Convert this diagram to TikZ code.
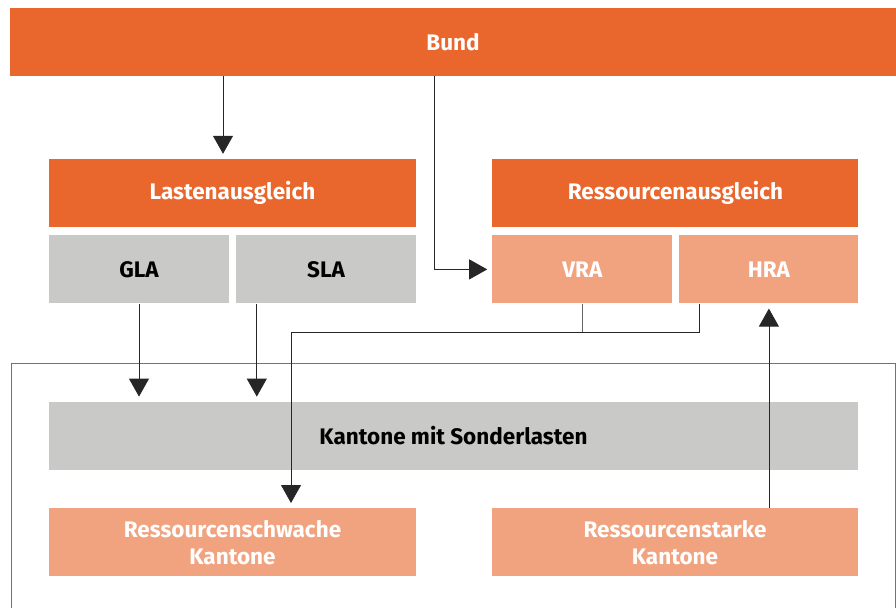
\documentclass[tikz,border=0pt]{standalone}
\usepackage{fontspec}
\setmainfont{Fira Sans}
\usetikzlibrary{positioning, arrows.meta}

\definecolor{dunkelorange}{HTML}{E9662C}
\definecolor{hellorange}{HTML}{F1A37F}
\definecolor{hellgrau}{HTML}{C9C9C7}

\begin{document}
\begin{tikzpicture}[x=1pt, y=-1pt, node distance=8pt,
	font=\fontsize{22.5}{27}\selectfont\bfseries,
	box/.style={rectangle, inner sep=0pt, minimum height=68pt, align=center},
	haupt/.style={box, fill=dunkelorange, text=white},
	teil/.style={box, fill=hellorange, text=white},
	grau/.style={box, fill=hellgrau, text=black},
	pfeil/.style={-{Triangle[width=20pt, length=18pt]}, line width=0.8pt, draw=black!85, shorten >=5pt},
	linie/.style={line width=0.8pt, draw=black!60}]
	\useasboundingbox (0,0) rectangle (896,608);

	% Rahmen der Kantone
	\draw[black!55, line width=0.8pt] (11,608) |- (895,363) -- (895,608);

	\node[haupt, minimum width=886pt] (bund) at (453,42) {Bund};
	\node[haupt, minimum width=367pt] (last) at (232.5,193) {Lastenausgleich};
	\node[haupt, minimum width=366pt, right=76pt of last] (res) {Ressourcenausgleich};

	\node[grau, minimum width=180pt, below=of last.south west, anchor=north west] (gla) {GLA};
	\node[grau, minimum width=180pt, below=of last.south east, anchor=north east] (sla) {SLA};
	\node[teil, minimum width=180pt, below=of res.south west, anchor=north west] (vra) {VRA};
	\node[teil, minimum width=179pt, below=of res.south east, anchor=north east] (hra) {HRA};

	\node[grau, minimum width=809pt, below=98pt of gla.south west, anchor=north west] (sonder) {Kantone mit Sonderlasten};
	\node[teil, minimum width=367pt, below=38pt of sonder.south west, anchor=north west] (schwach) {Ressourcenschwache\\Kantone};
	\node[teil, minimum width=366pt, below=38pt of sonder.south east, anchor=north east] (stark) {Ressourcenstarke\\Kantone};

	\coordinate (knick) at ([yshift=-29pt]vra.south);

	\draw[pfeil] ([xshift=-230pt]bund.south) -- ([xshift=-9.5pt]last.north);
	\draw[pfeil] ([xshift=-19pt]bund.south) |- (vra.west);
	\draw[pfeil] (gla.south) -- (gla.south |- sonder.north);
	\draw[pfeil] ([xshift=21pt]sla.south west) -- ([xshift=21pt]sla.south west |- sonder.north);
	\draw[linie] (vra.south) -- (knick);
	\draw[pfeil] ([xshift=-70pt]hra.south) |- (knick) -| ([xshift=58.5pt]schwach.north);
	\draw[pfeil] (stark.north -| hra.south) -- (hra.south);
\end{tikzpicture}
\end{document}
